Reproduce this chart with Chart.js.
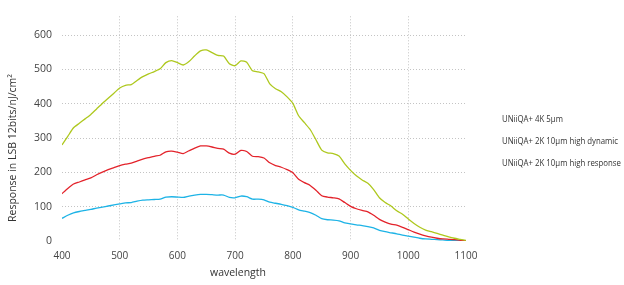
<!DOCTYPE html>
<html>
<head>
<meta charset="utf-8">
<script src="https://cdn.jsdelivr.net/npm/chart.js@4"></script>
<style>
  html, body { margin: 0; padding: 0; background: #fff; }
  #wrap { width: 624px; height: 285px; position: relative; }
</style>
</head>
<body>
<div id="wrap"><canvas id="my-chart"></canvas></div>
<script>
var wavelengths = [400,410,420,430,440,450,460,470,480,490,500,510,520,530,540,550,560,570,580,590,
  600,610,620,630,640,650,660,670,680,690,700,710,720,730,740,750,760,770,780,790,
  800,810,820,830,840,850,860,870,880,890,900,910,920,930,940,950,960,970,980,990,
  1000,1010,1020,1030,1040,1050,1060,1070,1080,1090,1100];

var seriesNames = ["UNiiQA+ 4K 5µm", "UNiiQA+ 2K 10µm high dynamic", "UNiiQA+ 2K 10µm high response"];

var green = [280,305,330,343,356,369,385,401,416,431,446,454,456,468,479,487,494,502,520,526,
  520,513,523,540,554,557,549,541,539,517,511,525,521,496,493,488,458,444,435,420,
  401,365,345,325,295,265,257,255,248,225,206,190,178,168,150,126,112,102,88,78,
  64,51,40,32,27,22,17,12,8,5,2];

var red = [138,153,166,172,178,184,193,201,208,214,220,224,227,233,239,243,247,250,260,262,
  259,255,263,271,277,277,274,270,268,256,253,264,261,247,246,242,228,220,215,208,
  199,180,170,162,148,132,128,126,123,112,101,94,89,85,75,63,55,49,46,40,
  33,26,20,15,11,8,6,5,4,2,1];

var blue = [66,75,82,86,89,92,96,99,102,105,108,111,112,116,119,120,121,122,128,129,
  128,127,131,134,136,136,135,134,134,127,126,131,129,122,122,120,113,110,107,103,
  98,91,87,83,75,65,62,61,59,53,50,47,45,42,38,31,27,24,21,17,
  14,11,8,6,5,4,3,2,2,1,0];

var xTitle = "wavelength";
var yTitle = "Response in LSB 12bits/nJ/cm²";

var colors = ["#aec81e", "#e3232b", "#1db3e6"];
var font = "'Open Sans', 'DejaVu Sans', sans-serif";

var points = function(vals) {
  var out = [];
  for (var i=0; i<vals.length; i++) out.push({x: wavelengths[i], y: vals[i]});
  return out;
};

// axis titles and the text-only legend, placed like the original
var extras = {
  id: 'extras',
  afterDraw: function(chart) {
    var ctx = chart.ctx;
    ctx.save();
    ctx.fillStyle = '#333';
    ctx.textBaseline = 'middle';
    ctx.font = "10.5px " + font;
    ctx.textAlign = 'center';
    ctx.fillText(xTitle, 238, 273);
    ctx.save();
    ctx.translate(13, 148);
    ctx.rotate(-Math.PI/2);
    ctx.fillText(yTitle, 0, 0);
    ctx.restore();
    ctx.textAlign = 'left';
    ctx.font = "8.5px " + font;
    var ds = chart.data.datasets;
    for (var i=0; i<ds.length; i++) {
      ctx.save();
      ctx.translate(502, 120 + i*22);
      ctx.scale(0.92, 1);
      ctx.fillText(ds[i].label, 0, 0);
      ctx.restore();
    }
    ctx.restore();
  }
};

var generate = function() {
  var sets = [[green, 0], [red, 1], [blue, 2]];
  var datasets = [];
  for (var i=0; i<sets.length; i++) {
    datasets.push({
      label: seriesNames[sets[i][1]],
      data: points(sets[i][0]),
      borderColor: colors[i],
      borderWidth: 1.3,
      pointRadius: 0,
      tension: 0.2,
      fill: false
    });
  }
  return {
    type: 'line',
    data: { datasets: datasets },
    plugins: [extras],
    options: {
      responsive: true,
      maintainAspectRatio: false,
      animation: false,
      layout: { padding: { top: 8, right: 158, bottom: 0, left: 0 } },
      plugins: { legend: { display: false }, tooltip: { enabled: false } },
      scales: {
        x: {
          type: 'linear',
          min: 400,
          max: 1100,
          afterFit: function(s) { s.height = 44; },
          border: { display: false, dash: [1, 2] },
          grid: {
            drawTicks: false,
            color: function(c) {
              var v = c.tick && c.tick.value;
              return (v === 400 || v === 1100) ? 'rgba(0,0,0,0)' : '#c4c4c4';
            }
          },
          ticks: {
            stepSize: 100, padding: 9, color: '#444', font: { family: font, size: 10 },
            callback: function(v) { return String(v); }
          }
        },
        y: {
          min: 0,
          max: 655,
          afterFit: function(s) { s.width = 62; },
          afterBuildTicks: function(s) {
            s.ticks = s.ticks.filter(function(t) { return t.value % 100 === 0; });
          },
          border: { display: false, dash: [1, 2] },
          grid: {
            drawTicks: false,
            color: function(c) {
              var v = c.tick && c.tick.value;
              return v === 0 ? 'rgba(0,0,0,0)' : '#c4c4c4';
            }
          },
          ticks: { stepSize: 100, padding: 10, color: '#444', font: { family: font, size: 10.5 } }
        }
      }
    }
  };
};

var create = function() {
  var ctx = document.getElementById("my-chart");
  var myChart = new Chart(ctx, generate());
};

create();
</script>
</body>
</html>
